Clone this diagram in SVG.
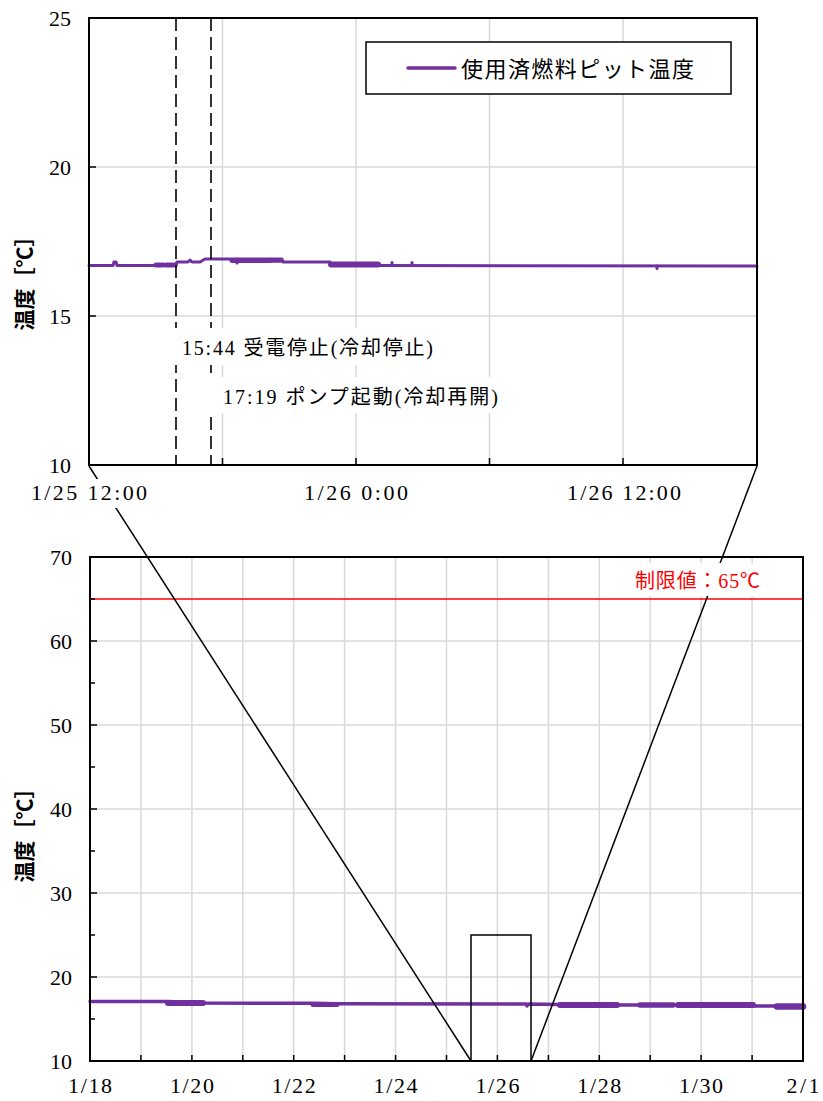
<svg xmlns="http://www.w3.org/2000/svg" width="823" height="1101" viewBox="0 0 823 1101">
<style>
.grid{stroke:#d9d9d9;stroke-width:1.5;fill:none}
.axis{stroke:#000;stroke-width:2;fill:none}
.tick{stroke:#000;stroke-width:1.5}
.num{font-family:'Liberation Serif',serif;font-size:22px;fill:#000}
.jp{font-family:'Liberation Serif','Noto Sans CJK JP',serif;font-size:20px;fill:#000}
.ytitle{font-family:'Noto Sans CJK JP',sans-serif;font-size:21px;font-weight:bold;fill:#000}
.data{stroke:#7030a0;fill:none;stroke-linejoin:round;stroke-linecap:round}
.dash{stroke:#000;stroke-width:1.6;stroke-dasharray:13 6;fill:none}
.conn{stroke:#000;stroke-width:1.5;fill:none}
</style>
<rect x="0" y="0" width="823" height="1101" fill="#fff"/>

<g id="top-chart">
  <g id="top-grid">
    <line class="grid" x1="89" y1="167" x2="757" y2="167"/>
    <line class="grid" x1="89" y1="316" x2="757" y2="316"/>
    <line class="grid" x1="222.5" y1="18" x2="222.5" y2="465"/>
    <line class="grid" x1="356" y1="18" x2="356" y2="465"/>
    <line class="grid" x1="489.5" y1="18" x2="489.5" y2="465"/>
    <line class="grid" x1="623" y1="18" x2="623" y2="465"/>
  </g>
  <g id="top-data">
    <polyline class="data" stroke-width="3" points="89,265.5 113,265.5 114,262 116,262 117,265.5 155,265.5 176,265 177,262 188,262 190,260 192,262 200,262 205,259 282,259 283,262 330,262 332,265 380,265.5 757,266"/>
    <line class="data" stroke-width="5" stroke-linecap="butt" x1="156" y1="265" x2="163" y2="265"/>
    <line class="data" stroke-width="5" stroke-linecap="butt" x1="166" y1="265" x2="175" y2="265"/>
    <line class="data" stroke-width="5" stroke-linecap="butt" x1="232" y1="260.5" x2="248" y2="260.5"/>
    <line class="data" stroke-width="5" stroke-linecap="butt" x1="250" y1="260.5" x2="270" y2="260.5"/>
    <line class="data" stroke-width="4.5" stroke-linecap="butt" x1="272" y1="260.5" x2="281" y2="260.5"/>
    <line class="data" stroke-width="6" stroke-linecap="butt" x1="331" y1="264.5" x2="356" y2="264.5"/>
    <line class="data" stroke-width="6" stroke-linecap="butt" x1="358" y1="264.5" x2="378" y2="264.5"/>
    <line class="data" stroke-width="3" x1="237" y1="259" x2="237" y2="263"/>
    <line class="data" stroke-width="3" x1="392" y1="262.5" x2="392" y2="265.5"/>
    <line class="data" stroke-width="3" x1="412" y1="262.5" x2="412" y2="265.5"/>
    <line class="data" stroke-width="3" x1="657" y1="266" x2="657" y2="268.5"/>
  </g>
  <g id="event-lines">
    <line class="dash" x1="176" y1="18" x2="176" y2="465"/>
    <line class="dash" x1="211" y1="18" x2="211" y2="465"/>
  </g>
  <g id="event-label-1">
    <rect x="170" y="328" width="272" height="37" fill="#fff"/>
    <text class="jp" x="182" y="355" textLength="251">15:44 受電停止(冷却停止)</text>
  </g>
  <g id="event-label-2">
    <rect x="205" y="377" width="300" height="36" fill="#fff"/>
    <text class="jp" x="223" y="404" textLength="275">17:19 ポンプ起動(冷却再開)</text>
  </g>
  <g id="top-frame">
    <rect class="axis" x="89" y="18" width="668" height="447"/>
    <line class="tick" x1="89" y1="167" x2="96" y2="167"/>
    <line class="tick" x1="89" y1="316" x2="96" y2="316"/>
    <line class="tick" x1="222.5" y1="465" x2="222.5" y2="458"/>
    <line class="tick" x1="356" y1="465" x2="356" y2="458"/>
    <line class="tick" x1="489.5" y1="465" x2="489.5" y2="458"/>
    <line class="tick" x1="623" y1="465" x2="623" y2="458"/>
  </g>
  <g id="top-yaxis-labels">
    <text class="num" x="71" y="26" text-anchor="end">25</text>
    <text class="num" x="71" y="175" text-anchor="end">20</text>
    <text class="num" x="71" y="324" text-anchor="end">15</text>
    <text class="num" x="71" y="473" text-anchor="end">10</text>
    <text class="ytitle" x="22.5" y="278" text-anchor="middle" dominant-baseline="central" transform="rotate(-90 22.5 278)">温度［℃］</text>
  </g>
  <g id="legend">
    <rect x="366" y="42" width="365" height="52" fill="#fff" stroke="#000" stroke-width="1.5"/>
    <line class="data" stroke-width="3.5" stroke-linecap="butt" x1="408" y1="68" x2="455" y2="68"/>
    <text x="461" y="77" font-family="'Noto Sans CJK JP',sans-serif" font-size="22" textLength="233" fill="#000">使用済燃料ピット温度</text>
  </g>
</g>

<g id="bottom-chart">
  <g id="bottom-grid">
    <line class="grid" x1="90" y1="641" x2="803" y2="641"/>
    <line class="grid" x1="90" y1="725" x2="803" y2="725"/>
    <line class="grid" x1="90" y1="809" x2="803" y2="809"/>
    <line class="grid" x1="90" y1="893" x2="803" y2="893"/>
    <line class="grid" x1="90" y1="977" x2="803" y2="977"/>
    <line class="grid" x1="140.9" y1="557" x2="140.9" y2="1061"/>
    <line class="grid" x1="191.9" y1="557" x2="191.9" y2="1061"/>
    <line class="grid" x1="242.8" y1="557" x2="242.8" y2="1061"/>
    <line class="grid" x1="293.7" y1="557" x2="293.7" y2="1061"/>
    <line class="grid" x1="344.6" y1="557" x2="344.6" y2="1061"/>
    <line class="grid" x1="395.6" y1="557" x2="395.6" y2="1061"/>
    <line class="grid" x1="446.5" y1="557" x2="446.5" y2="1061"/>
    <line class="grid" x1="497.4" y1="557" x2="497.4" y2="1061"/>
    <line class="grid" x1="548.4" y1="557" x2="548.4" y2="1061"/>
    <line class="grid" x1="599.3" y1="557" x2="599.3" y2="1061"/>
    <line class="grid" x1="650.2" y1="557" x2="650.2" y2="1061"/>
    <line class="grid" x1="701.1" y1="557" x2="701.1" y2="1061"/>
    <line class="grid" x1="752.1" y1="557" x2="752.1" y2="1061"/>
  </g>
  <g id="limit-line">
    <line x1="90" y1="599" x2="803" y2="599" stroke="#ff0000" stroke-width="1.6"/>
  </g>
  <g id="bottom-data">
    <polyline class="data" stroke-width="3.5" points="90,1001.5 168,1001.5 203,1003 313,1003.3 337,1003.7 526,1004 527,1006 528,1004 560,1004.5 617,1005 640,1005 673,1005.3 753,1006 777,1006 803,1006.5"/>
    <line class="data" stroke-width="6" stroke-linecap="butt" x1="168" y1="1003" x2="203" y2="1003"/>
    <line class="data" stroke-width="5" stroke-linecap="butt" x1="313" y1="1004.5" x2="337" y2="1004.5"/>
    <line class="data" stroke-width="6" stroke-linecap="butt" x1="560" y1="1005" x2="617" y2="1005"/>
    <line class="data" stroke-width="5.5" stroke-linecap="butt" x1="640" y1="1005" x2="673" y2="1005"/>
    <line class="data" stroke-width="6" stroke-linecap="butt" x1="678" y1="1005" x2="753" y2="1005"/>
    <line class="data" stroke-width="6.5" stroke-linecap="butt" x1="777" y1="1006.5" x2="803" y2="1006.5"/>
  </g>
  <g id="zoom-window">
    <rect x="471" y="935" width="60" height="126" fill="none" stroke="#000" stroke-width="1.5"/>
  </g>
  <g id="bottom-frame">
    <rect class="axis" x="90" y="557" width="713" height="504"/>
    <line class="tick" x1="90" y1="641" x2="97" y2="641"/>
    <line class="tick" x1="90" y1="725" x2="97" y2="725"/>
    <line class="tick" x1="90" y1="809" x2="97" y2="809"/>
    <line class="tick" x1="90" y1="893" x2="97" y2="893"/>
    <line class="tick" x1="90" y1="977" x2="97" y2="977"/>
    <line class="tick" x1="90" y1="599" x2="95" y2="599"/>
    <line class="tick" x1="90" y1="683" x2="95" y2="683"/>
    <line class="tick" x1="90" y1="767" x2="95" y2="767"/>
    <line class="tick" x1="90" y1="851" x2="95" y2="851"/>
    <line class="tick" x1="90" y1="935" x2="95" y2="935"/>
    <line class="tick" x1="90" y1="1019" x2="95" y2="1019"/>
    <line class="tick" x1="140.9" y1="1061" x2="140.9" y2="1055"/>
    <line class="tick" x1="191.9" y1="1061" x2="191.9" y2="1055"/>
    <line class="tick" x1="242.8" y1="1061" x2="242.8" y2="1055"/>
    <line class="tick" x1="293.7" y1="1061" x2="293.7" y2="1055"/>
    <line class="tick" x1="344.6" y1="1061" x2="344.6" y2="1055"/>
    <line class="tick" x1="395.6" y1="1061" x2="395.6" y2="1055"/>
    <line class="tick" x1="446.5" y1="1061" x2="446.5" y2="1055"/>
    <line class="tick" x1="497.4" y1="1061" x2="497.4" y2="1055"/>
    <line class="tick" x1="548.4" y1="1061" x2="548.4" y2="1055"/>
    <line class="tick" x1="599.3" y1="1061" x2="599.3" y2="1055"/>
    <line class="tick" x1="650.2" y1="1061" x2="650.2" y2="1055"/>
    <line class="tick" x1="701.1" y1="1061" x2="701.1" y2="1055"/>
    <line class="tick" x1="752.1" y1="1061" x2="752.1" y2="1055"/>
  </g>
  <g id="bottom-yaxis-labels">
    <text class="num" x="72" y="565" text-anchor="end">70</text>
    <text class="num" x="72" y="649" text-anchor="end">60</text>
    <text class="num" x="72" y="733" text-anchor="end">50</text>
    <text class="num" x="72" y="817" text-anchor="end">40</text>
    <text class="num" x="72" y="901" text-anchor="end">30</text>
    <text class="num" x="72" y="985" text-anchor="end">20</text>
    <text class="num" x="72" y="1069" text-anchor="end">10</text>
    <text class="ytitle" x="22.5" y="830" text-anchor="middle" dominant-baseline="central" transform="rotate(-90 22.5 830)">温度［℃］</text>
  </g>
  <g id="bottom-xaxis-labels">
    <text class="num" x="90" y="1093" text-anchor="middle" textLength="44">1/18</text>
    <text class="num" x="191.9" y="1093" text-anchor="middle" textLength="44">1/20</text>
    <text class="num" x="293.7" y="1093" text-anchor="middle" textLength="44">1/22</text>
    <text class="num" x="395.6" y="1093" text-anchor="middle" textLength="44">1/24</text>
    <text class="num" x="497.4" y="1093" text-anchor="middle" textLength="44">1/26</text>
    <text class="num" x="599.3" y="1093" text-anchor="middle" textLength="44">1/28</text>
    <text class="num" x="701.1" y="1093" text-anchor="middle" textLength="44">1/30</text>
    <text class="num" x="803" y="1093" text-anchor="middle" textLength="33">2/1</text>
  </g>
</g>

<g id="connectors">
  <line class="conn" x1="89" y1="466" x2="471" y2="1061"/>
  <line class="conn" x1="757" y1="466" x2="531" y2="1061"/>
</g>

<g id="limit-label">
  <rect x="628" y="563" width="140" height="33" fill="#fff"/>
  <text x="635" y="588" font-family="'Liberation Serif','Noto Sans CJK JP',serif" font-size="20" fill="#ff0000" textLength="125">制限値：65℃</text>
</g>

<g id="top-xaxis-labels">
  <rect x="28" y="479" width="124" height="29" fill="#fff"/>
  <text class="num" x="89" y="500" text-anchor="middle" textLength="116">1/25 12:00</text>
  <text class="num" x="356" y="500" text-anchor="middle" textLength="104">1/26 0:00</text>
  <text class="num" x="624" y="500" text-anchor="middle" textLength="114">1/26 12:00</text>
</g>
</svg>
